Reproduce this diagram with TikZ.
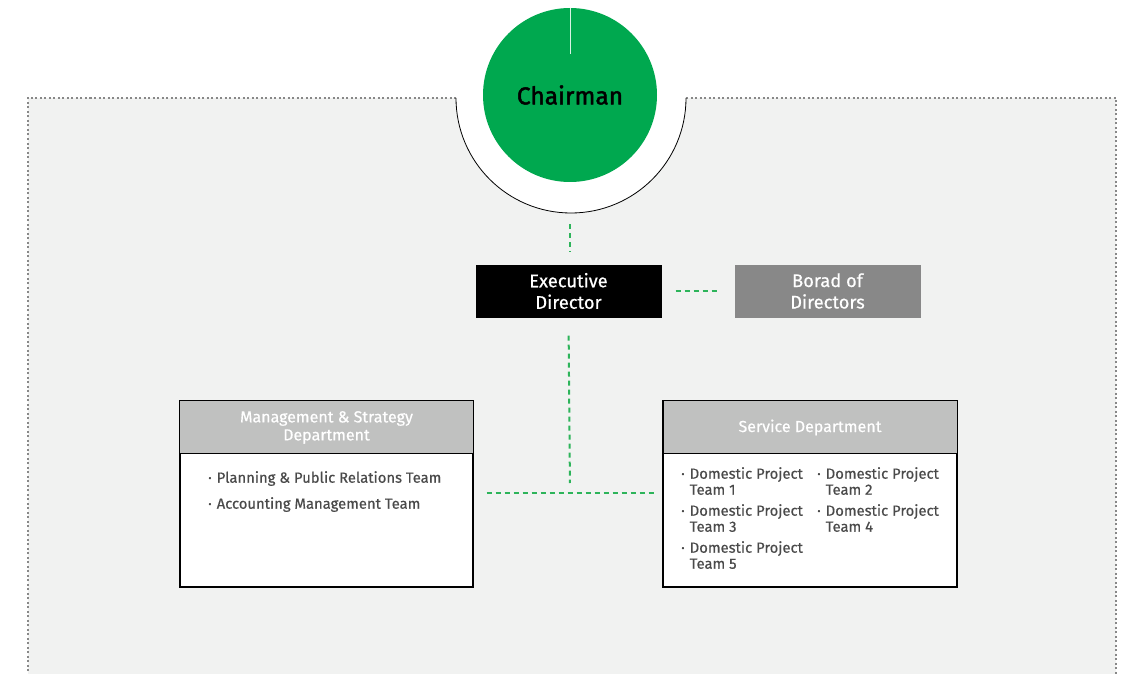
\documentclass[tikz,border=0pt]{standalone}
\usepackage{fontspec}
\setmainfont{Fira Sans}[FakeBold=0.5]
\newfontfamily\chfont{Fira Sans}[FakeBold=1.8]
\usetikzlibrary{positioning,calc}
\definecolor{cgreen}{HTML}{00A84F}
\definecolor{dgreen}{HTML}{2DB45A}
\definecolor{panel}{HTML}{F1F2F1}
\definecolor{hdr}{HTML}{C0C1C0}
\definecolor{bgray}{HTML}{888888}
\definecolor{txt}{HTML}{4A4A4A}
\tikzset{
  gdash/.style={draw=dgreen,line width=2pt,dash pattern=on 5pt off 4pt},
  topbox/.style={minimum width=186pt,minimum height=53pt,inner sep=0pt,align=center,text=white,font=\fontsize{18.3}{21.5}\selectfont},
  deptbox/.style={draw=black,line width=1.2pt,fill=white,minimum width=293pt,minimum height=186pt,inner sep=0pt},
  hdrtxt/.style={text=white,align=center,font=\fontsize{16}{18}\selectfont},
  item/.style={text=txt,anchor=north west,inner sep=0pt,align=left,font=\fontsize{14.8}{16}\selectfont},
  panelline/.style={bgray,line width=1.5pt,dash pattern=on 2pt off 2.5pt},
}
\newcommand{\bul}{·\hspace{5pt}}
\begin{document}
\begin{tikzpicture}[x=1pt,y=-1pt]
\useasboundingbox (0,0) rectangle (1136,674);
% panel
\fill[panel] (28,98) rectangle (1116,680);
\draw[panelline] (28,680) -- (28,98) -- (456,98);
\draw[panelline] (686,98) -- (1116,98) -- (1116,680);
% white half-disc
\fill[white] (456,98) arc[start angle=180,end angle=0,radius=115] -- cycle;
\draw[black,line width=0.8pt] (456,98) arc[start angle=180,end angle=0,radius=115];
% chairman
\node[circle,fill=cgreen,minimum size=174pt,inner sep=0pt] (ch) at (570,95) {};
\draw[white!85!cgreen,line width=1pt] (570,8) -- (570,54);
\node[font=\chfont\fontsize{24.5}{28}\selectfont,text=black] (cht) at (570,95) {Chairman};
% top boxes
\node[topbox,fill=black] (exec) at (568.5,291) {Executive\\Director};
\node[topbox,fill=bgray] (board) at (827.5,291) {Borad of\\Directors};
\draw[gdash] (570,224) -- (570,252);
\draw[gdash,shorten <=14pt,shorten >=14pt] (exec.east) -- (board.west);
% departments
\node[deptbox] (left) at (326.5,494) {};
\node[deptbox] (right) at (810,494) {};
\fill[hdr] ([shift={(0.6,0.6)}]left.north west) rectangle ($(left.north east)+(-0.6,53)$);
\draw[black,line width=1.2pt] ($(left.north west)+(0,53)$) -- ($(left.north east)+(0,53)$);
\fill[hdr] ([shift={(0.6,0.6)}]right.north west) rectangle ($(right.north east)+(-0.6,53)$);
\draw[black,line width=1.2pt] ($(right.north west)+(0,53)$) -- ($(right.north east)+(0,53)$);
\draw[black,line width=1.2pt] (left.north west) rectangle (left.south east);
\draw[black,line width=1.2pt] (right.north west) rectangle (right.south east);
\node[hdrtxt] (lh) at (326.5,427.5) {Management \& Strategy\\Department};
\node[hdrtxt] (rh) at (810,427.5) {Service Department};
% connectors
\coordinate (jn) at (570,493);
\draw[gdash,shorten <=18pt,shorten >=10pt] (exec.south) -- (jn);
\draw[gdash,shorten <=13pt,shorten >=7pt] (left.east |- jn) -- (right.west |- jn);
% items left
\node[item] (l1) at (208,471) {\bul Planning \& Public Relations Team};
\node[item] (l2) at (208,497) {\bul Accounting Management Team};
% items right
\node[item] (r1) at (681,467) {\bul\begin{tabular}[t]{@{}l@{}}Domestic Project\\Team 1\end{tabular}};
\node[item] (r2) at (817,467) {\bul\begin{tabular}[t]{@{}l@{}}Domestic Project\\Team 2\end{tabular}};
\node[item] (r3) at (681,504) {\bul\begin{tabular}[t]{@{}l@{}}Domestic Project\\Team 3\end{tabular}};
\node[item] (r4) at (817,504) {\bul\begin{tabular}[t]{@{}l@{}}Domestic Project\\Team 4\end{tabular}};
\node[item] (r5) at (681,541) {\bul\begin{tabular}[t]{@{}l@{}}Domestic Project\\Team 5\end{tabular}};
\end{tikzpicture}
\end{document}
